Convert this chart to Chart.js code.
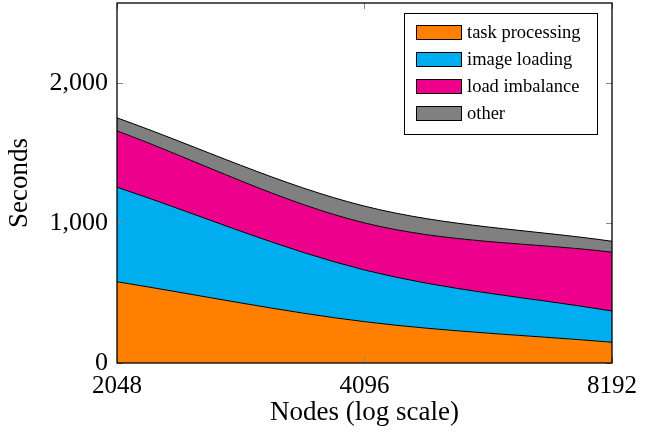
<!DOCTYPE html>
<html>
<head>
<meta charset="utf-8">
<script src="https://cdn.jsdelivr.net/npm/chart.js@4"></script>
<style>
  html, body { margin: 0; padding: 0; background: #fff; }
  #wrap { width: 651px; height: 433px; }
</style>
</head>
<body>
<div id="wrap"><canvas id="chart"></canvas></div>
<script>
// Data
const nodes = [2048, 4096, 8192];
const taskProcessing = [580, 295, 148];
const imageLoading = [675, 369, 223];
const loadImbalance = [402, 336, 420];
const other = [93, 120, 78];
const yTicks = [0, 1000, 2000];

const serif = '"Liberation Serif", "DejaVu Serif", serif';

function pts(arr) {
    return nodes.map((n, i) => ({ x: n, y: arr[i] }));
}

function series(label, arr, color, fill) {
    return {
        label: label,
        data: pts(arr),
        backgroundColor: color,
        borderColor: '#000',
        borderWidth: 1,
        fill: fill,
        cubicInterpolationMode: 'monotone',
        pointRadius: 0
    };
}

// inner tick marks, frame and boxed legend like pgfplots
const decor = {
    id: 'decor',
    afterDraw(chart) {
        const c = chart.ctx;
        const a = chart.chartArea;
        const xs = chart.scales.x, ys = chart.scales.y;
        c.save();
        c.strokeStyle = '#888';
        c.lineWidth = 1;
        c.beginPath();
        yTicks.forEach(v => {
            const y = Math.round(ys.getPixelForValue(v)) + 0.5;
            c.moveTo(a.left, y); c.lineTo(a.left + 6, y);
            c.moveTo(a.right, y); c.lineTo(a.right - 6, y);
        });
        nodes.forEach(v => {
            const x = Math.round(xs.getPixelForValue(v)) + 0.5;
            c.moveTo(x, a.bottom); c.lineTo(x, a.bottom - 6);
            c.moveTo(x, a.top); c.lineTo(x, a.top + 6);
        });
        c.stroke();

        c.strokeStyle = '#000';
        c.lineWidth = 1.3;
        c.strokeRect(a.left, a.top, a.right - a.left, a.bottom - a.top);

        // legend
        const bx = 404, by = 13, bw = 193, bh = 121;
        c.fillStyle = '#fff';
        c.fillRect(bx, by, bw, bh);
        c.lineWidth = 1;
        c.strokeRect(bx + 0.5, by + 0.5, bw, bh);
        c.font = '18.5px ' + serif;
        c.textBaseline = 'middle';
        chart.data.datasets.forEach((ds, i) => {
            const cy = 32 + i * 27;
            c.fillStyle = ds.backgroundColor;
            c.fillRect(416, cy - 7, 46, 15);
            c.strokeStyle = '#000';
            c.strokeRect(416.5, cy - 6.5, 45, 14);
            c.fillStyle = '#000';
            c.fillText(ds.label, 467, cy + 1);
        });
        c.restore();
    }
};

new Chart(document.getElementById('chart'), {
    type: 'line',
    data: {
        datasets: [
            series('task processing', taskProcessing, '#ff8000', 'origin'),
            series('image loading', imageLoading, '#00aeef', '-1'),
            series('load imbalance', loadImbalance, '#ec008c', '-1'),
            series('other', other, '#808080', '-1')
        ]
    },
    options: {
        responsive: true,
        maintainAspectRatio: false,
        animation: false,
        layout: { padding: { top: 3, right: 39, left: 0, bottom: 0 } },
        plugins: {
            legend: { display: false },
            tooltip: { enabled: false }
        },
        scales: {
            x: {
                type: 'logarithmic',
                min: 2048,
                max: 8192,
                afterBuildTicks: s => { s.ticks = nodes.map(v => ({ value: v })); },
                afterFit: s => { s.height = 70; s.paddingLeft = 0; s.paddingRight = 0; },
                grid: { display: false },
                border: { display: false },
                ticks: {
                    color: '#000',
                    font: { family: serif, size: 25 },
                    padding: 0,
                    maxRotation: 0,
                    callback: v => String(v)
                },
                title: {
                    display: true,
                    text: 'Nodes (log scale)',
                    color: '#000',
                    font: { family: serif, size: 27 },
                    padding: { top: 1 }
                }
            },
            y: {
                stacked: true,
                min: 0,
                max: 2570,
                afterBuildTicks: s => { s.ticks = yTicks.map(v => ({ value: v })); },
                afterFit: s => { s.width = 117; s.paddingTop = 0; s.paddingBottom = 0; },
                grid: { display: false },
                border: { display: false },
                ticks: {
                    color: '#000',
                    font: { family: serif, size: 26 },
                    padding: 1,
                    callback: v => v.toLocaleString('en-US')
                },
                title: {
                    display: true,
                    text: 'Seconds',
                    color: '#000',
                    font: { family: serif, size: 27 },
                    padding: { top: 4, bottom: 0 }
                }
            }
        }
    },
    plugins: [decor]
});
</script>
</body>
</html>
